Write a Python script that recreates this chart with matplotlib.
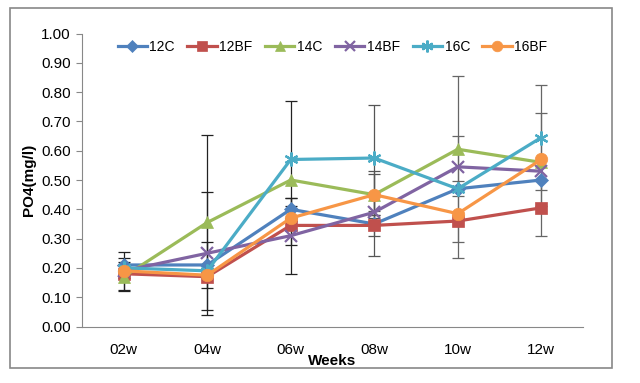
import matplotlib
import matplotlib.pyplot as plt
from matplotlib.patches import Rectangle

matplotlib.use('Agg')

weeks = ['02w', '04w', '06w', '08w', '10w', '12w']
names = ['12C', '12BF', '14C', '14BF', '16C', '16BF']

v_12c = [0.21, 0.21, 0.40, 0.35, 0.47, 0.50]
v_12bf = [0.18, 0.17, 0.345, 0.345, 0.36, 0.405]
v_14c = [0.17, 0.355, 0.50, 0.45, 0.605, 0.56]
v_14bf = [0.19, 0.25, 0.31, 0.39, 0.545, 0.53]
v_16c = [0.20, 0.19, 0.57, 0.575, 0.47, 0.645]
v_16bf = [0.19, 0.175, 0.37, 0.45, 0.385, 0.57]

# error bar half-widths (0 = not shown)
e_12c = [0.045, 0.08, 0.04, 0.11, 0.025, 0.0]
e_12bf = [0.055, 0.0, 0.067, 0.035, 0.0, 0.095]
e_14c = [0.05, 0.30, 0.0, 0.08, 0.0, 0.0]
e_14bf = [0.0, 0.21, 0.13, 0.0, 0.31, 0.0]
e_16c = [0.0, 0.0, 0.20, 0.18, 0.18, 0.18]
e_16bf = [0.0, 0.0, 0.0, 0.07, 0.0, 0.16]

values = [v_12c, v_12bf, v_14c, v_14bf, v_16c, v_16bf]
errors = [e_12c, e_12bf, e_14c, e_14bf, e_16c, e_16bf]
colors = ['#4F81BD', '#C0504D', '#9BBB59', '#8064A2', '#4BACC6', '#F79646']
markers = ['D', 's', '^', 'x', (6, 2, 0), 'o']
msizes = [7, 8.5, 8.5, 9, 10, 9]
# early week bars look black, later ones grey
err_colors = ['#222222', '#222222', '#222222', '#555555', '#666666', '#666666']

plt.rcParams['font.family'] = ['Liberation Sans', 'DejaVu Sans']

fig = plt.figure(figsize=(6.4, 3.83), dpi=100)
ax = fig.add_axes([82 / 640, 1 - 326.5 / 383, 501 / 640, 293 / 383])

xs = list(range(len(weeks)))
for vals, errs, c, m, ms, name in zip(values, errors, colors, markers, msizes, names):
    ax.plot(xs, vals, color=c, lw=2.3, marker=m, markersize=ms, label=name,
            markeredgewidth=1.6 if m in ('x', (6, 2, 0)) else 0.5,
            markeredgecolor=c, zorder=3)
    for x, v, e in zip(xs, vals, errs):
        if e > 0:
            ax.errorbar(x, v, yerr=e, fmt='none', ecolor=err_colors[x], elinewidth=0.9,
                        capsize=4, capthick=0.9, zorder=2)

ax.set_xlim(-0.5, 5.5)
ax.set_ylim(0, 1.0)
ax.set_yticks([i / 10 for i in range(11)])
ax.set_yticklabels(['%.2f' % (i / 10) for i in range(11)], fontsize=11)
ax.set_xticks(xs)
ax.set_xticklabels(weeks, fontsize=11)
ax.tick_params(axis='x', length=0, pad=12)
ax.tick_params(axis='y', length=4, color='#888888', pad=4)
for s in ['top', 'right']:
    ax.spines[s].set_visible(False)
ax.spines['left'].set_color('#888888')
ax.spines['bottom'].set_color('#888888')

ax.set_xlabel('Weeks', fontsize=11, fontweight='bold', labelpad=-2)
ax.set_ylabel('PO4(mg/l)', fontsize=11, fontweight='bold', labelpad=4)

leg = ax.legend(loc='upper center', bbox_to_anchor=(0.5, 1.02), ncol=6, frameon=False,
                fontsize=10, handlelength=2.1, handletextpad=0.2, columnspacing=0.9,
                markerscale=0.85)

fig.patches.append(Rectangle((10 / 640, 1 - 368 / 383), 602 / 640, 360 / 383,
                             transform=fig.transFigure, fill=False,
                             edgecolor='#888888', lw=1.2))

fig.savefig('out.png', dpi=100)
